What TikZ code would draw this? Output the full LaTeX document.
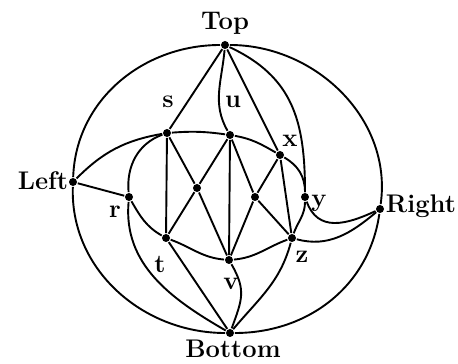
\documentclass[tikz,border=0pt]{standalone}
\usepackage{fontspec}
\begin{document}
\begin{tikzpicture}[x=1pt,y=1pt,line width=1.9pt,
  vtx/.style={circle,fill,inner sep=0pt,minimum size=8pt},
  lbl/.style={font=\fontsize{25.5}{30}\selectfont\bfseries,inner sep=0pt}]
\useasboundingbox (0,0) rectangle (458,364);
\node[vtx] (top) at (225,319) {};
\node[vtx] (left) at (73,182) {};
\node[vtx] (right) at (380,155) {};
\node[vtx] (bottom) at (230,31) {};
\node[vtx] (r) at (129,167) {};
\node[vtx] (s) at (167,231) {};
\node[vtx] (u) at (230,229) {};
\node[vtx] (x) at (280,209) {};
\node[vtx] (y) at (305,167) {};
\node[vtx] (z) at (292,126) {};
\node[vtx] (v) at (229,104) {};
\node[vtx] (t) at (166,126) {};
\node[vtx] (m1) at (197,176) {};
\node[vtx] (m2) at (255,167) {};
\node[lbl,anchor=base] (ltop) at (225,334) {Top};
\node[lbl,anchor=base] (lbottom) at (233,6) {Bottom};
\node[lbl,anchor=base east] (lleft) at (69,174) {Left};
\node[lbl,anchor=base west] (lright) at (385,151) {Right};
\node[lbl,anchor=base] (ls) at (168,256) {s};
\node[lbl,anchor=base] (lu) at (233,256) {u};
\node[lbl,anchor=base] (lx) at (290,217) {x};
\node[lbl,anchor=base] (ly) at (319,157) {y};
\node[lbl,anchor=base] (lr) at (115,146) {r};
\node[lbl,anchor=base] (lt) at (160,91) {t};
\node[lbl,anchor=base] (lv) at (231,74) {v};
\node[lbl,anchor=base] (lz) at (302,101) {z};
\draw (top) to[out=180,in=88] (left);
\draw (left) to[out=-92,in=180] (bottom);
\draw (bottom) to[out=0,in=-98] (right);
\draw (right) to[out=82,in=0] (top);
\draw (left) to[out=45,in=190] (s);
\draw (right) to[out=220,in=-15] (z);
\draw (right) to[out=205,in=-70,looseness=1.2] (y);
\draw (left) -- (r);
\draw (r) to[out=95,in=200] (s);
\draw (s) to[bend left=6] (u);
\draw (u) to[out=-10,in=150] (x);
\draw (x) to[out=-30,in=90] (y);
\draw (y) to[out=-90,in=70] (z);
\draw (z) to[out=200,in=5] (v);
\draw (v) to[out=175,in=-20] (t);
\draw (t) to[out=150,in=-60] (r);
\draw (top) -- (s);
\draw (top) to[out=-95,in=120] (u);
\draw (top) -- (x);
\draw (top) to[out=-25,in=90,looseness=1.1] (y);
\draw (bottom) -- (t);
\draw (bottom) to[out=70,in=-60,looseness=1.2] (v);
\draw (bottom) to[out=50,in=-105] (z);
\draw (bottom) to[out=150,in=-95] (r);
\draw (s) -- (t);
\draw (u) -- (v);
\draw (x) -- (z);
\draw (s) -- (m1) -- (v);
\draw (t) -- (m1) -- (u);
\draw (u) -- (m2) -- (z);
\draw (x) -- (m2) -- (v);
\end{tikzpicture}
\end{document}
